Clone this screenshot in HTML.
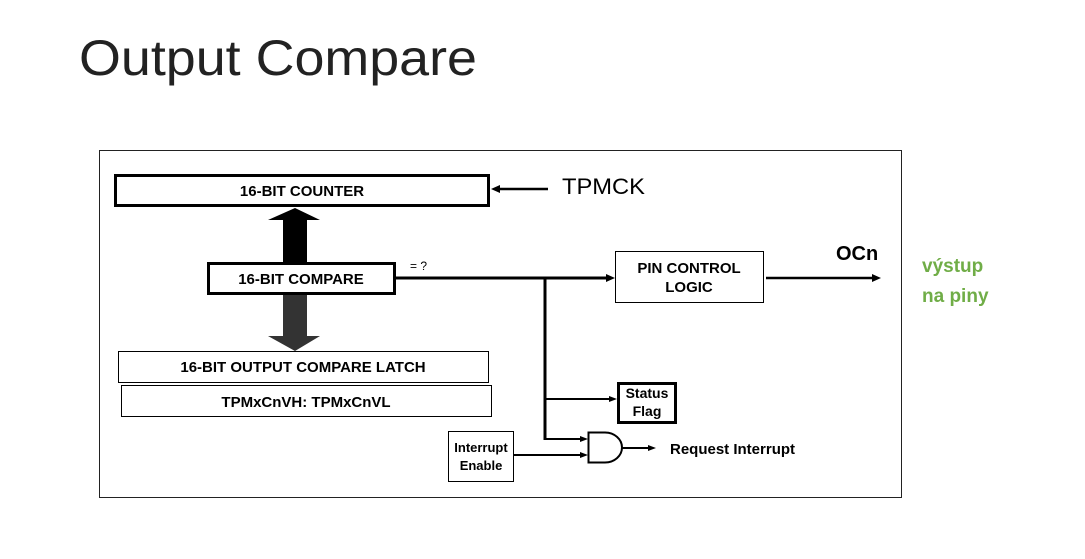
<!DOCTYPE html>
<html><head><meta charset="utf-8"><style>
body{margin:0;background:#fff;width:1085px;height:554px;overflow:hidden}
</style></head><body>
<svg width="1085" height="554" xmlns="http://www.w3.org/2000/svg" font-family="Liberation Sans, Arial, sans-serif">
<text x="79" y="75" font-size="50" fill="#222" textLength="398" lengthAdjust="spacingAndGlyphs">Output Compare</text>
<rect x="99.5" y="150.5" width="802" height="347" fill="none" stroke="#222" stroke-width="1"/>
<!-- counter -->
<rect x="115.5" y="175.5" width="373" height="30" fill="#fff" stroke="#000" stroke-width="3"/>
<text x="302" y="196" font-size="15" font-weight="bold" text-anchor="middle">16-BIT COUNTER</text>
<line x1="548" y1="189" x2="498" y2="189" stroke="#000" stroke-width="2.5"/>
<polygon points="491,189 500,185 500,193" fill="#000"/>
<text x="562" y="194" font-size="22" textLength="83" lengthAdjust="spacingAndGlyphs">TPMCK</text>
<!-- up arrow -->
<polygon points="283,262 307,262 307,220 320,220 295,208 268,220 283,220" fill="#000"/>
<!-- compare -->
<rect x="208.5" y="263.5" width="186" height="30" fill="#fff" stroke="#000" stroke-width="3"/>
<text x="301" y="284" font-size="15" font-weight="bold" text-anchor="middle">16-BIT COMPARE</text>
<text x="410" y="270" font-size="12">= ?</text>
<!-- down arrow -->
<polygon points="283,295 307,295 307,336 320,336 295,351 268,336 283,336" fill="#333"/>
<!-- latch -->
<rect x="118.5" y="351.5" width="370" height="31" fill="#fff" stroke="#000"/>
<text x="303" y="372" font-size="15" font-weight="bold" text-anchor="middle">16-BIT OUTPUT COMPARE LATCH</text>
<rect x="121.5" y="385.5" width="370" height="31" fill="#fff" stroke="#000"/>
<text x="306" y="407" font-size="15" font-weight="bold" text-anchor="middle">TPMxCnVH: TPMxCnVL</text>
<!-- lines -->
<line x1="395" y1="278" x2="608" y2="278" stroke="#000" stroke-width="3"/>
<polygon points="615,278 606,274 606,282" fill="#000"/>
<line x1="545" y1="277" x2="545" y2="440" stroke="#000" stroke-width="3"/>
<rect x="615.5" y="251.5" width="148" height="51" fill="#fff" stroke="#000"/>
<text x="689" y="273" font-size="15" font-weight="bold" text-anchor="middle">PIN CONTROL</text>
<text x="689" y="292" font-size="15" font-weight="bold" text-anchor="middle">LOGIC</text>
<line x1="766" y1="278" x2="874" y2="278" stroke="#000" stroke-width="2.5"/>
<polygon points="881,278 872,274 872,282" fill="#000"/>
<text x="836" y="260" font-size="20" font-weight="bold">OCn</text>
<text x="922" y="272" font-size="19" font-weight="bold" fill="#70ad47">výstup</text>
<text x="922" y="302" font-size="19" font-weight="bold" fill="#70ad47">na piny</text>
<!-- status -->
<line x1="545" y1="399" x2="611" y2="399" stroke="#000" stroke-width="2"/>
<polygon points="617,399 609,396 609,402" fill="#000"/>
<rect x="618.5" y="383.5" width="57" height="39" fill="#fff" stroke="#000" stroke-width="3"/>
<text x="647" y="398" font-size="14" font-weight="bold" text-anchor="middle">Status</text>
<text x="647" y="416" font-size="14" font-weight="bold" text-anchor="middle">Flag</text>
<!-- and gate -->
<line x1="545" y1="439" x2="582" y2="439" stroke="#000" stroke-width="2"/>
<polygon points="588,439 580,436 580,442" fill="#000"/>
<line x1="514" y1="455" x2="582" y2="455" stroke="#000" stroke-width="2"/>
<polygon points="588,455 580,452 580,458" fill="#000"/>
<path d="M588.5,432.5 L605,432.5 A17,15 0 0 1 605,462.5 L588.5,462.5 Z" fill="#fff" stroke="#000" stroke-width="2"/>
<line x1="622" y1="448" x2="649" y2="448" stroke="#000" stroke-width="2"/>
<polygon points="656,448 648,445 648,451" fill="#000"/>
<text x="670" y="454" font-size="15" font-weight="bold">Request Interrupt</text>
<rect x="448.5" y="431.5" width="65" height="50" fill="#fff" stroke="#000"/>
<text x="481" y="452" font-size="13" font-weight="bold" text-anchor="middle">Interrupt</text>
<text x="481" y="470" font-size="13" font-weight="bold" text-anchor="middle">Enable</text>
</svg>
</body></html>
